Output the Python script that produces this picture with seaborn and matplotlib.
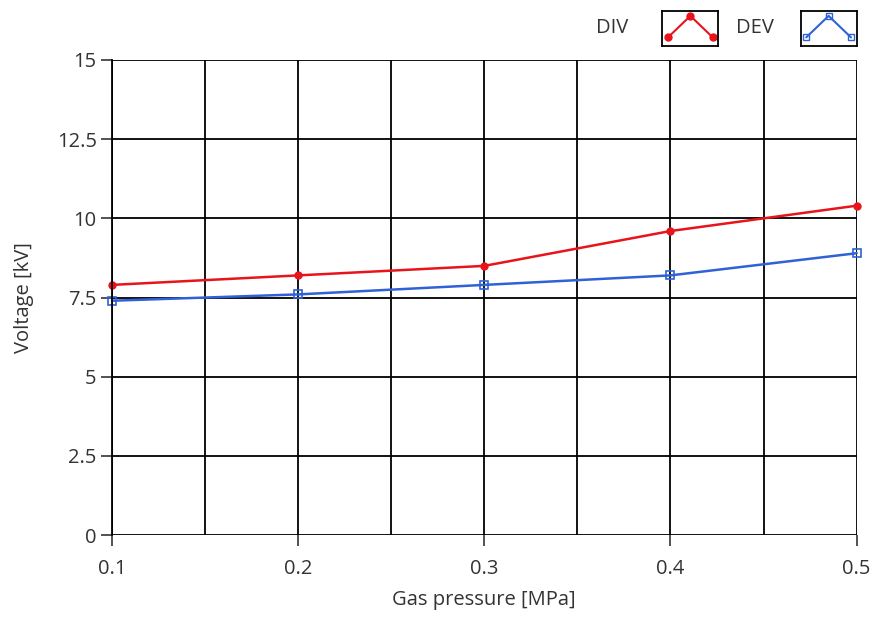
import numpy as np
import pandas as pd
import matplotlib
matplotlib.use("Agg")
import matplotlib.pyplot as plt
import seaborn as sns

pressure = [0.1, 0.2, 0.3, 0.4, 0.5]
div_values = [7.9, 8.2, 8.5, 9.6, 10.4]
dev_values = [7.4, 7.6, 7.9, 8.2, 8.9]
series_names = ["DIV", "DEV"]
x_ticks = [0.1, 0.2, 0.3, 0.4, 0.5]
y_ticks = [0, 2.5, 5, 7.5, 10, 12.5, 15]
y_tick_labels = ["0", "2.5", "5", "7.5", "10", "12.5", "15"]

df = pd.DataFrame({
    "pressure": pressure * 2,
    "voltage": div_values + dev_values,
    "series": [series_names[0]] * len(pressure) + [series_names[1]] * len(pressure),
})

sns.set_style("white")
plt.rcParams["font.family"] = ["Open Sans", "DejaVu Sans"]

RED = "#e8141c"
BLUE = "#2f62d6"
TXT = "#333333"
FS = 14.5

fig = plt.figure(figsize=(8.75, 6.18), dpi=100)
ax = fig.add_axes([0.128, 0.134, 0.851, 0.769])

sns.lineplot(data=df[df.series == "DIV"], x="pressure", y="voltage", ax=ax,
             color=RED, lw=1.8, marker="o", markersize=6, markeredgewidth=0,
             legend=False, clip_on=False)
sns.lineplot(data=df[df.series == "DEV"], x="pressure", y="voltage", ax=ax,
             color=BLUE, lw=1.8, marker="s", markersize=6, markerfacecolor="none",
             markeredgecolor=BLUE, markeredgewidth=1.2, legend=False, clip_on=False)

ax.set_xlim(0.1, 0.5)
ax.set_ylim(0, 15)
ax.set_xticks(x_ticks)
ax.set_xticklabels([str(t) for t in x_ticks])
ax.set_xticks([0.15, 0.25, 0.35, 0.45], minor=True)
ax.set_yticks(y_ticks)
ax.set_yticklabels(y_tick_labels)

ax.grid(True, which="both", color="black", lw=1.3)
ax.set_axisbelow(True)
for s in ax.spines.values():
    s.set_visible(False)
ax.spines["left"].set_visible(True)
ax.spines["left"].set_color("black")
ax.spines["left"].set_linewidth(1.3)

ax.tick_params(axis="both", which="major", direction="out", length=8, width=1.3,
               color="#444444", labelsize=FS, labelcolor=TXT, pad=3,
               bottom=True, left=True)
ax.tick_params(axis="x", which="minor", length=0, bottom=False)
ax.tick_params(axis="x", which="major", pad=9)

ax.set_xlabel("Gas pressure [MPa]", fontsize=FS, color=TXT, labelpad=8)
ax.set_ylabel("Voltage [kV]", fontsize=FS, color=TXT, labelpad=16)

# Legend: text labels with boxed icons
fig.text(0.700, 0.955, "DIV", fontsize=FS, color=TXT, ha="center", va="center")
fig.text(0.863, 0.955, "DEV", fontsize=FS, color=TXT, ha="center", va="center")

icon_x = [0.1, 0.5, 0.9]
icon_y = [0.25, 0.85, 0.25]
for left, color, mk, fc in [(0.757, RED, "o", RED), (0.915, BLUE, "s", "none")]:
    iax = fig.add_axes([left, 0.925, 0.064, 0.058])
    iax.plot(icon_x, icon_y, color=color, lw=1.5, marker=mk, markersize=5,
             markerfacecolor=fc, markeredgecolor=color, clip_on=False)
    iax.set_xlim(0, 1)
    iax.set_ylim(0, 1)
    iax.set_xticks([])
    iax.set_yticks([])
    for s in iax.spines.values():
        s.set_visible(True)
        s.set_color("black")
        s.set_linewidth(1.3)

fig.savefig("out.png", dpi=100)
